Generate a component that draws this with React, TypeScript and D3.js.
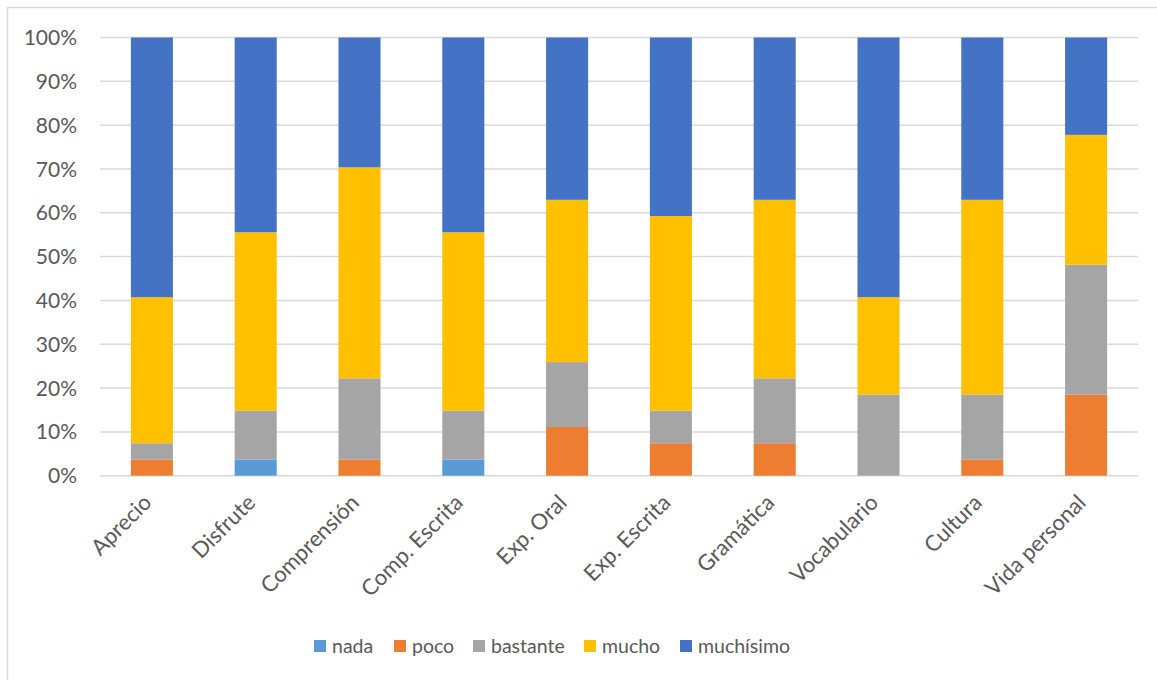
import React from "react";
import * as d3 from "d3";

// Survey responses (27 respondents) per aspect
const categories = [
  "Aprecio",
  "Disfrute",
  "Comprensión",
  "Comp. Escrita",
  "Exp. Oral",
  "Exp. Escrita",
  "Gramática",
  "Vocabulario",
  "Cultura",
  "Vida personal",
];
const nada = [0, 1, 0, 1, 0, 0, 0, 0, 0, 0];
const poco = [1, 0, 1, 0, 3, 2, 2, 0, 1, 5];
const bastante = [1, 3, 5, 3, 4, 2, 4, 5, 4, 8];
const mucho = [9, 11, 13, 11, 10, 12, 11, 6, 12, 8];
const muchisimo = [16, 12, 8, 12, 10, 11, 10, 16, 10, 6];

const seriesNames = ["nada", "poco", "bastante", "mucho", "muchísimo"];
const seriesValues = [nada, poco, bastante, mucho, muchisimo];
const seriesColors = ["#5B9BD5", "#ED7D31", "#A5A5A5", "#FFC000", "#4472C4"];
const yTicks = [0, 0.1, 0.2, 0.3, 0.4, 0.5, 0.6, 0.7, 0.8, 0.9, 1];

const W = 1157;
const H = 680;
const FONT = "Lato, 'Open Sans', sans-serif";
const TEXT = "#595959";

export default function App() {
  const rows = categories.map((c, i) => {
    const r: Record<string, number | string> = { cat: c };
    seriesNames.forEach((s, k) => (r[s] = seriesValues[k][i]));
    return r;
  });
  const stacked = d3
    .stack<Record<string, number | string>>()
    .keys(seriesNames)
    .value((d, k) => d[k] as number)
    .offset(d3.stackOffsetExpand)(rows);

  const x = d3
    .scaleBand<string>()
    .domain(categories)
    .range([100, 1138])
    .paddingInner(0.595)
    .paddingOuter(0.2975);
  const y = d3.scaleLinear().domain([0, 1]).range([475.7, 37.5]);
  const fmt = d3.format(".0%");

  // legend layout
  const legendX = [314, 394, 473, 584, 680];

  return (
    <svg
      width={W}
      height={H}
      style={{ position: "absolute", left: 0, top: 0, background: "#fff" }}
      fontFamily={FONT}
    >
      <rect x={7.5} y={7.5} width={W + 20} height={H + 20} fill="#fff" stroke="#d9d9d9" strokeWidth={1.5} />
      {yTicks.map((t) => (
        <g key={t}>
          <line x1={100} x2={1138} y1={y(t)} y2={y(t)} stroke="#d9d9d9" strokeWidth={1.5} />
          <text x={77} y={y(t)} dy="0.36em" textAnchor="end" fontSize={21} fill={TEXT}>
            {fmt(t)}
          </text>
        </g>
      ))}
      {stacked.map((layer, k) => (
        <g key={layer.key} fill={seriesColors[k]}>
          {layer.map((d, i) => (
            <rect
              key={i}
              x={x(categories[i])}
              width={x.bandwidth()}
              y={y(d[1])}
              height={Math.max(0, y(d[0]) - y(d[1]))}
            />
          ))}
        </g>
      ))}
      {categories.map((c) => {
        const cx = (x(c) as number) + x.bandwidth() / 2;
        return (
          <text
            key={c}
            transform={`translate(${cx + 1},${504}) rotate(-45)`}
            textAnchor="end"
            fontSize={22}
            fill={TEXT}
          >
            {c}
          </text>
        );
      })}
      {seriesNames.map((s, k) => (
        <g key={s}>
          <rect x={legendX[k]} y={640} width={12} height={12} fill={seriesColors[k]} />
          <text x={legendX[k] + 18} y={653} fontSize={19.5} fill={TEXT}>
            {s}
          </text>
        </g>
      ))}
    </svg>
  );
}
